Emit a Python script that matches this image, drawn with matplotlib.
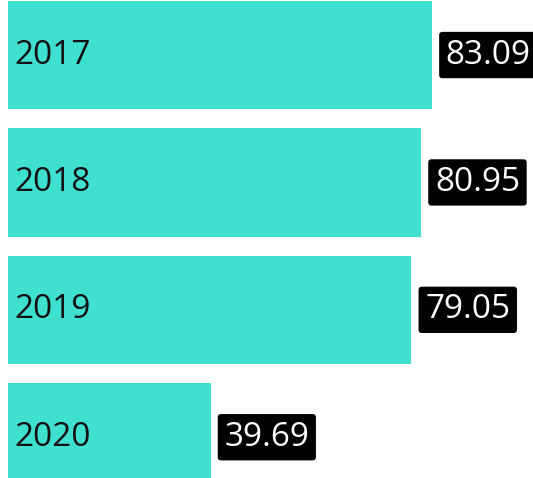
import matplotlib
matplotlib.use("Agg")
import matplotlib.pyplot as plt

years = ["2017", "2018", "2019", "2020"]
values = [83.09, 80.95, 79.05, 39.69]

plt.rcParams['font.family'] = ['Open Sans', 'DejaVu Sans']

fig = plt.figure(figsize=(5.33, 4.78), dpi=100)
ax = fig.add_axes([0, 0, 1, 1])

pos = list(range(len(years)))
ax.barh(pos, values, height=0.85, color='#40E0D0')

for i, (yr, v) in enumerate(zip(years, values)):
    # year label inside the bar, value in a black tag right of it
    ax.annotate(yr, xy=(0, i), xytext=(4.5, 0), textcoords='offset points',
                ha='left', va='center', fontsize=24, color='#111111')
    ax.annotate(f"{v:.2f}", xy=(v, i), xytext=(10, 0), textcoords='offset points',
                ha='left', va='center', fontsize=24, color='white',
                bbox=dict(boxstyle='round,pad=0.2,rounding_size=0.1',
                          facecolor='black', edgecolor='none'))

ax.set_xlim(-1.57, 102.9)
ax.set_ylim(3.32, -0.432)
ax.axis('off')

fig.savefig("out.png", dpi=100)
plt.close(fig)
